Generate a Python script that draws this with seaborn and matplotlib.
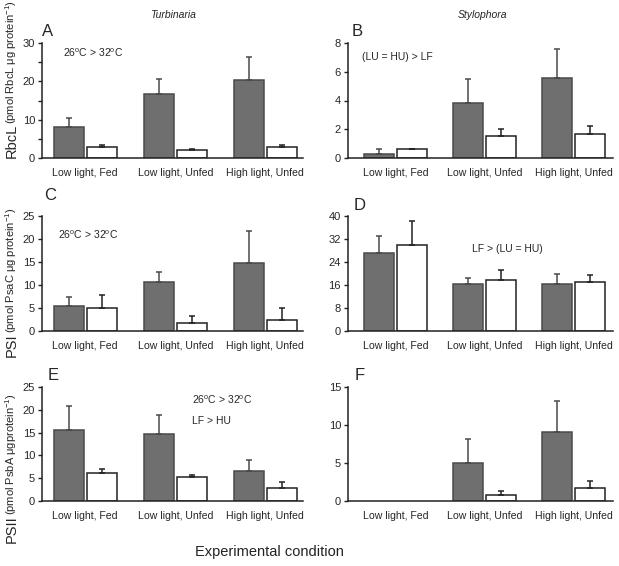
import numpy as np
import pandas as pd
import matplotlib
matplotlib.use("Agg")
import matplotlib.pyplot as plt
from matplotlib.ticker import MultipleLocator
import seaborn as sns

# Conditions on the x axis and the two temperatures (hue)
conditions = ["Low light, Fed", "Low light, Unfed", "High light, Unfed"]
temps = ["26", "32"]

# Means and upper SE (26C dark bars, 32C white bars)
rbcl_turb_26 = [8.2, 16.6, 20.4]
rbcl_turb_26_err = [2.2, 4.0, 5.9]
rbcl_turb_32 = [2.9, 2.0, 2.9]
rbcl_turb_32_err = [0.5, 0.3, 0.4]

rbcl_styl_26 = [0.3, 3.8, 5.6]
rbcl_styl_26_err = [0.3, 1.7, 2.0]
rbcl_styl_32 = [0.6, 1.5, 1.65]
rbcl_styl_32_err = [0.05, 0.5, 0.6]

psi_turb_26 = [5.4, 10.6, 14.7]
psi_turb_26_err = [2.0, 2.3, 7.0]
psi_turb_32 = [5.1, 1.8, 2.5]
psi_turb_32_err = [2.7, 1.4, 2.5]

psi_styl_26 = [27.2, 16.2, 16.3]
psi_styl_26_err = [5.9, 2.4, 3.7]
psi_styl_32 = [29.9, 17.9, 16.9]
psi_styl_32_err = [8.2, 3.4, 2.7]

psii_turb_26 = [15.5, 14.8, 6.6]
psii_turb_26_err = [5.4, 4.1, 2.3]
psii_turb_32 = [6.2, 5.2, 2.9]
psii_turb_32_err = [0.9, 0.6, 1.2]

psii_styl_26 = [np.nan, 5.0, 9.1]
psii_styl_26_err = [np.nan, 3.1, 4.1]
psii_styl_32 = [np.nan, 0.8, 1.7]
psii_styl_32_err = [np.nan, 0.5, 0.9]

panel_letters = ["A", "B", "C", "D", "E", "F"]
species = ["Turbinaria", "Stylophora"]

sns.set_style("ticks")
plt.rcParams["font.family"] = ["Liberation Sans", "DejaVu Sans"]
plt.rcParams["mathtext.fontset"] = "custom"
plt.rcParams["mathtext.rm"] = "Liberation Sans"
plt.rcParams["mathtext.it"] = "Liberation Sans:italic"

W, H = 619, 566
fig = plt.figure(figsize=(W / 100, H / 100), dpi=100)


def px_axes(left, right, top, bottom):
    return fig.add_axes([left / W, 1 - bottom / H, (right - left) / W, (bottom - top) / H])


def make_df(m26, e26, m32, e32):
    rows = []
    for i, c in enumerate(conditions):
        rows.append({"condition": c, "temp": "26", "mean": m26[i], "err": e26[i]})
        rows.append({"condition": c, "temp": "32", "mean": m32[i], "err": e32[i]})
    return pd.DataFrame(rows)


panels = [
    make_df(rbcl_turb_26, rbcl_turb_26_err, rbcl_turb_32, rbcl_turb_32_err),
    make_df(rbcl_styl_26, rbcl_styl_26_err, rbcl_styl_32, rbcl_styl_32_err),
    make_df(psi_turb_26, psi_turb_26_err, psi_turb_32, psi_turb_32_err),
    make_df(psi_styl_26, psi_styl_26_err, psi_styl_32, psi_styl_32_err),
    make_df(psii_turb_26, psii_turb_26_err, psii_turb_32, psii_turb_32_err),
    make_df(psii_styl_26, psii_styl_26_err, psii_styl_32, psii_styl_32_err),
]

ylims = [30, 8, 25, 40, 25, 15]
ysteps = [10, 2, 5, 8, 5, 5]
rows_px = [(43, 158), (216, 331), (387, 501)]
cols_px = [(42, 303), (348, 613)]
xlims = [(-0.48, 2.42), (-0.53, 2.44)]

bar_colors = {"26": "#6f6f6f", "32": "white"}
edge_colors = {"26": "#4a4a4a", "32": "#222222"}

axes = []
for k, df in enumerate(panels):
    r, c = divmod(k, 2)
    ax = px_axes(cols_px[c][0], cols_px[c][1], rows_px[r][0], rows_px[r][1])
    axes.append(ax)
    plot_df = df.dropna(subset=["mean"])
    sns.barplot(data=plot_df, x="condition", y="mean", hue="temp", order=conditions,
                hue_order=temps, palette=bar_colors, width=0.74, gap=0.1,
                errorbar=None, legend=False, ax=ax, linewidth=1.1, edgecolor="#333333")
    # recolor edges and add one-sided error bars
    for p in ax.patches:
        xc = p.get_x() + p.get_width() / 2
        ci = int(round(xc))
        t = "26" if xc < ci else "32"
        p.set_edgecolor(edge_colors[t])
        row = df[(df["condition"] == conditions[ci]) & (df["temp"] == t)].iloc[0]
        if np.isnan(row["err"]):
            continue
        ax.errorbar(xc, row["mean"], yerr=[[0], [row["err"]]], fmt="none",
                    ecolor=edge_colors[t], elinewidth=1.1, capsize=2, capthick=1.1,
                    zorder=1)
    ax.set_xlim(*xlims[c])
    ax.set_ylim(0, ylims[k])
    ax.yaxis.set_major_locator(MultipleLocator(ysteps[k]))
    if k == 0:
        ax.yaxis.set_minor_locator(MultipleLocator(5))
    ax.set_xlabel("")
    ax.set_ylabel("")
    sns.despine(ax=ax)
    for s in ["left", "bottom"]:
        ax.spines[s].set_linewidth(1.1)
        ax.spines[s].set_color("#222222")
    ax.tick_params(axis="y", which="both", length=3, width=1, pad=2, labelsize=8,
                   color="#222222")
    ax.tick_params(axis="x", length=0, pad=7, labelsize=7.6)

# panel letters
letter_px = [(48, 32), (357, 32), (50, 195), (360, 205), (53, 375), (360, 375)]
for L, (x, y) in zip(panel_letters, letter_px):
    fig.text(x / W, 1 - y / H, L, fontsize=12, ha="center", va="center")

# species titles
fig.text(173 / W, 1 - 15 / H, species[0], fontsize=7.5, style="italic", ha="center", va="center")
fig.text(482 / W, 1 - 15 / H, species[1], fontsize=7.5, style="italic", ha="center", va="center")

# statistics annotations
deg = r"$^{\mathrm{o}}$C"
stats = [
    (63, 53, "26" + deg + " > 32" + deg),
    (362, 57, "(LU = HU) > LF"),
    (58, 235, "26" + deg + " > 32" + deg),
    (472, 249, "LF > (LU = HU)"),
    (192, 400, "26" + deg + " > 32" + deg),
    (192, 421, "LF > HU"),
]
for x, y, s in stats:
    fig.text(x / W, 1 - y / H, s, fontsize=7.5, ha="left", va="center")

# y labels: big name + smaller units
ylabels = [
    ("RbcL", "(pmol RbcL μg protein$^{-1}$)", 158),
    ("PSI", "(pmol PsaC μg protein$^{-1}$)", 357),
    ("PSII", "(pmol PsbA μgprotein$^{-1}$)", 543),
]
for big, small, ybot in ylabels:
    t1 = fig.text(19 / W, 1 - ybot / H, big, fontsize=10.5, rotation=90,
                  ha="right", va="bottom")
    axes[0].annotate(small, xy=(1, 1), xycoords=t1, fontsize=8, rotation=90,
                     ha="right", va="bottom", annotation_clip=False)

fig.text(269 / W, 1 - 552 / H, "Experimental condition", fontsize=10.5,
         ha="center", va="center", color="#222222")

fig.savefig("out.png", dpi=100)
